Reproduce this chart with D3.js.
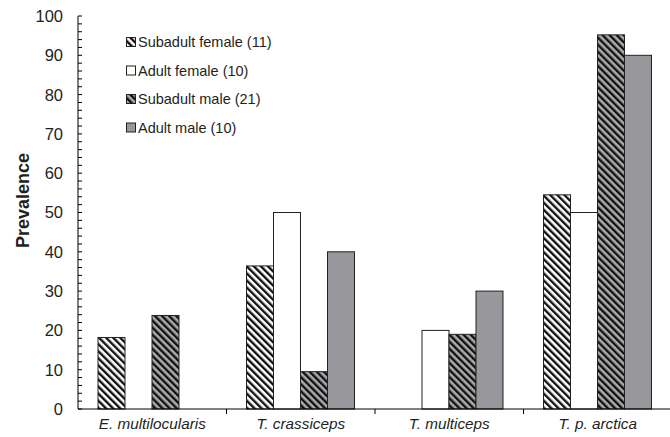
<!DOCTYPE html>
<html><head><meta charset="utf-8">
<script src="https://cdn.jsdelivr.net/npm/d3@7"></script>
<style>body{margin:0;background:#fff}svg{display:block}</style>
</head><body>
<script>
const categories = ["E. multilocularis", "T. crassiceps", "T. multiceps", "T. p. arctica"];
const seriesNames = ["Subadult female (11)", "Adult female (10)", "Subadult male (21)", "Adult male (10)"];
const subadultFemale = [18.2, 36.4, 0, 54.5];
const adultFemale = [0, 50, 20, 50];
const subadultMale = [23.8, 9.5, 19.0, 95.2];
const adultMale = [0, 40, 30, 90];
const yTicks = [0, 10, 20, 30, 40, 50, 60, 70, 80, 90, 100];

const series = [subadultFemale, adultFemale, subadultMale, adultMale];
const fills = ["url(#hatchW)", "#ffffff", "url(#hatchG)", "#98989c"];
const FONT = "Liberation Sans, Arial, sans-serif";

const W = 670, H = 437;
const svg = d3.select("body").append("svg").attr("width", W).attr("height", H);
const defs = svg.append("defs");
function hatch(id, bg) {
  const p = defs.append("pattern").attr("id", id).attr("patternUnits", "userSpaceOnUse")
    .attr("width", 5).attr("height", 5).attr("patternTransform", "rotate(-45)");
  p.append("rect").attr("width", 5).attr("height", 5).attr("fill", bg);
  p.append("rect").attr("x", 0).attr("width", 2.4).attr("height", 5).attr("fill", "#111");
}
hatch("hatchW", "#ffffff");
hatch("hatchG", "#ababad");

const x0 = 78, x1 = 672, yTop = 16, yBot = 409;
const x = d3.scaleBand().domain(categories).range([x0, x1]).paddingInner(0).paddingOuter(0);
const xs = d3.scaleBand().domain(d3.range(4)).range([20, x.bandwidth() - 20.5]).padding(0);
const y = d3.scaleLinear().domain([0, 100]).range([yBot, yTop]);

// bars
categories.forEach((c, ci) => {
  series.forEach((s, si) => {
    const v = s[ci];
    if (!v) return;
    svg.append("rect")
      .attr("x", x(c) + xs(si)).attr("y", y(v))
      .attr("width", xs.bandwidth()).attr("height", y(0) - y(v))
      .attr("fill", fills[si]).attr("stroke", "#222").attr("stroke-width", 1);
  });
});

// y axis
const yAxis = svg.append("g").attr("transform", `translate(${x0},0)`);
yAxis.append("line").attr("x1", 0).attr("x2", 0).attr("y1", yTop).attr("y2", yBot).attr("stroke", "#000");
d3.range(0, 101, 2).forEach(v => {
  yAxis.append("line").attr("x1", 0).attr("x2", 4).attr("y1", y(v)).attr("y2", y(v)).attr("stroke", "#000");
});
yTicks.forEach(v => {
  yAxis.append("text").attr("x", -15).attr("y", y(v)).attr("dy", "0.36em")
    .attr("text-anchor", "end").attr("font-family", FONT)
    .attr("font-size", 16.5).attr("fill", "#231f20").text(v);
});

// x axis
const xAxis = svg.append("g").attr("transform", `translate(0,${yBot})`);
xAxis.append("line").attr("x1", x0).attr("x2", W).attr("y1", 0).attr("y2", 0).attr("stroke", "#000");
categories.slice(1).forEach(c => {
  xAxis.append("line").attr("x1", x(c)).attr("x2", x(c)).attr("y1", 0).attr("y2", 5).attr("stroke", "#000");
});
categories.forEach(c => {
  xAxis.append("text").attr("x", x(c) + x.bandwidth() / 2).attr("y", 20)
    .attr("text-anchor", "middle").attr("font-family", FONT)
    .attr("font-style", "italic").attr("font-size", 15.3).attr("fill", "#231f20").text(c);
});

// y label
svg.append("text").attr("transform", `translate(29,${(yTop + yBot) / 2 - 12}) rotate(-90)`)
  .attr("text-anchor", "middle").attr("font-family", FONT)
  .attr("font-weight", "bold").attr("font-size", 18).attr("fill", "#231f20").text("Prevalence");

// legend
const lg = svg.append("g").attr("transform", "translate(126,42)");
seriesNames.forEach((n, i) => {
  const g = lg.append("g").attr("transform", `translate(0,${i * 28.5})`);
  g.append("rect").attr("x", 0.5).attr("y", -4.5).attr("width", 9).attr("height", 9)
    .attr("fill", fills[i]).attr("stroke", "#222").attr("stroke-width", 1);
  g.append("text").attr("x", 12).attr("y", 0).attr("dy", "0.36em")
    .attr("font-family", FONT).attr("font-size", 14.5)
    .attr("fill", "#231f20").text(n);
});
</script>
</body></html>
